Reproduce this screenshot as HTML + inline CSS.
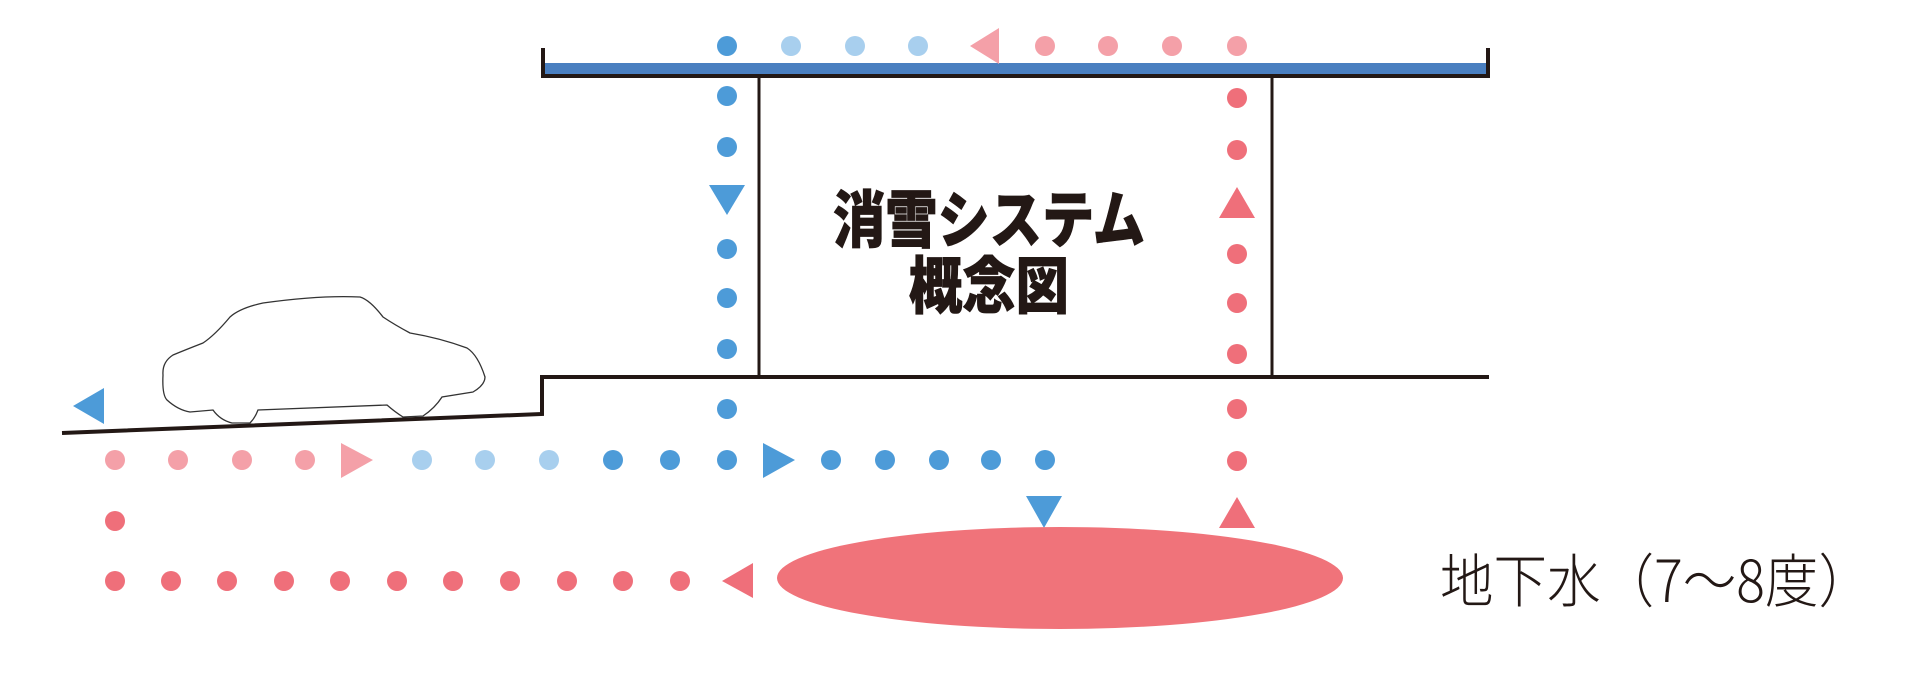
<!DOCTYPE html>
<html><head><meta charset="utf-8"><style>html,body{margin:0;padding:0;background:#fff}svg{display:block}</style></head>
<body>
<svg width="1914" height="680" viewBox="0 0 1914 680" xmlns="http://www.w3.org/2000/svg">
<rect width="1914" height="680" fill="#fff"/>
<rect x="543" y="63" width="946" height="12" fill="#4a7fc0"/>
<path d="M543,48 V76 H1488 V48" fill="none" stroke="#231815" stroke-width="4"/>
<line x1="759" y1="76" x2="759" y2="377" stroke="#231815" stroke-width="3"/>
<line x1="1272" y1="76" x2="1272" y2="377" stroke="#231815" stroke-width="3"/>
<path d="M1489,377 H542 V414 L62,433" fill="none" stroke="#231815" stroke-width="4"/>
<path d="M213,410 Q220,420 232,423 L250,423 Q255,418 258,410 L387,405 Q395,412 403,417 L423,416 Q435,408 442,397 L473,392 Q485,385 485,377 Q478,355 467,348 Q440,338 410,333 Q395,325 383,317 Q370,300 360,297 Q320,295 263,303 Q240,308 230,317 Q215,335 203,343 Q185,350 173,355 Q162,362 163,375 Q162,395 167,400 Q178,410 190,412 Z" fill="#fff" stroke="#333" stroke-width="1.3"/>
<polygon points="73,406 104,388 104,424" fill="#4d9bd8"/>
<text x="989" y="242" text-anchor="middle" font-family="'Noto Sans CJK JP',sans-serif" font-weight="900" font-size="62" fill="#231815" stroke="#231815" stroke-width="0.8" textLength="312" lengthAdjust="spacingAndGlyphs">消雪システム</text>
<text x="989" y="308" text-anchor="middle" font-family="'Noto Sans CJK JP',sans-serif" font-weight="900" font-size="62" fill="#231815" stroke="#231815" stroke-width="0.8" textLength="160" lengthAdjust="spacingAndGlyphs">概念図</text>
<g>
<circle cx="727" cy="46" r="10" fill="#4d9bd8"/>
<circle cx="791" cy="46" r="10" fill="#a8cfee"/>
<circle cx="855" cy="46" r="10" fill="#a8cfee"/>
<circle cx="918" cy="46" r="10" fill="#a8cfee"/>
<polygon points="970,46 999,28 999,64" fill="#f4a0a8"/>
<circle cx="1045" cy="46" r="10" fill="#f4a0a8"/>
<circle cx="1108" cy="46" r="10" fill="#f4a0a8"/>
<circle cx="1172" cy="46" r="10" fill="#f4a0a8"/>
<circle cx="1237" cy="46" r="10" fill="#f4a0a8"/>
</g>
<g fill="#4d9bd8">
<circle cx="727" cy="96" r="10"/>
<circle cx="727" cy="147" r="10"/>
<polygon points="709,185 745,185 727,215"/>
<circle cx="727" cy="249" r="10"/>
<circle cx="727" cy="298" r="10"/>
<circle cx="727" cy="349" r="10"/>
<circle cx="727" cy="409" r="10"/>
</g>
<g fill="#ef6f7a">
<circle cx="1237" cy="98" r="10"/>
<circle cx="1237" cy="150" r="10"/>
<polygon points="1237,187 1255,218 1219,218"/>
<circle cx="1237" cy="254" r="10"/>
<circle cx="1237" cy="303" r="10"/>
<circle cx="1237" cy="354" r="10"/>
<circle cx="1237" cy="409" r="10"/>
<circle cx="1237" cy="461" r="10"/>
<polygon points="1237,497 1255,528 1219,528"/>
</g>
<g>
<circle cx="115" cy="460" r="10" fill="#f4a0a8"/>
<circle cx="178" cy="460" r="10" fill="#f4a0a8"/>
<circle cx="242" cy="460" r="10" fill="#f4a0a8"/>
<circle cx="305" cy="460" r="10" fill="#f4a0a8"/>
<polygon points="341,443 373,460 341,478" fill="#f4a0a8"/>
<circle cx="422" cy="460" r="10" fill="#a8cfee"/>
<circle cx="485" cy="460" r="10" fill="#a8cfee"/>
<circle cx="549" cy="460" r="10" fill="#a8cfee"/>
<circle cx="613" cy="460" r="10" fill="#4d9bd8"/>
<circle cx="670" cy="460" r="10" fill="#4d9bd8"/>
<circle cx="727" cy="460" r="10" fill="#4d9bd8"/>
<polygon points="763,443 795,460 763,478" fill="#4d9bd8"/>
<circle cx="831" cy="460" r="10" fill="#4d9bd8"/>
<circle cx="885" cy="460" r="10" fill="#4d9bd8"/>
<circle cx="939" cy="460" r="10" fill="#4d9bd8"/>
<circle cx="991" cy="460" r="10" fill="#4d9bd8"/>
<circle cx="1045" cy="460" r="10" fill="#4d9bd8"/>
<polygon points="1026,496 1062,496 1044,528" fill="#4d9bd8"/>
</g>
<circle cx="115" cy="521" r="10" fill="#ef6f7a"/>
<g fill="#ef6f7a">
<circle cx="115" cy="581" r="10"/>
<circle cx="171" cy="581" r="10"/>
<circle cx="227" cy="581" r="10"/>
<circle cx="284" cy="581" r="10"/>
<circle cx="340" cy="581" r="10"/>
<circle cx="397" cy="581" r="10"/>
<circle cx="453" cy="581" r="10"/>
<circle cx="510" cy="581" r="10"/>
<circle cx="567" cy="581" r="10"/>
<circle cx="623" cy="581" r="10"/>
<circle cx="680" cy="581" r="10"/>
<polygon points="722,581 753,563 753,598"/>
</g>
<ellipse cx="1060" cy="578" rx="283" ry="51" fill="#f0737a"/>
<text x="1440" y="602" font-family="'Noto Sans CJK JP',sans-serif" font-weight="300" font-size="58" fill="#231815" textLength="432" lengthAdjust="spacingAndGlyphs">地下水（7～8度）</text>
</svg>
</body></html>
